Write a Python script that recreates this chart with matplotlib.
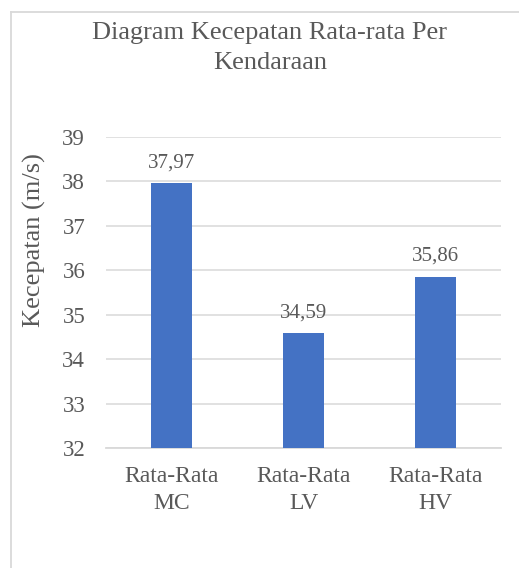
import matplotlib
matplotlib.use("Agg")
import matplotlib.pyplot as plt
from matplotlib.lines import Line2D

categories = ["Rata-Rata\nMC", "Rata-Rata\nLV", "Rata-Rata\nHV"]
values = [37.97, 34.59, 35.86]
value_labels = ["37,97", "34,59", "35,86"]
yticks = [32, 33, 34, 35, 36, 37, 38, 39]

W, H = 519, 568
plt.rcParams['font.family'] = ['Liberation Serif', 'DejaVu Serif']
text_color = '#595959'
grid_color = '#d9d9d9'

fig = plt.figure(figsize=(W / 100, H / 100), dpi=100)
ax = fig.add_axes([106 / W, 1 - 448 / H, (501 - 106) / W, (448 - 137) / H])

x = list(range(len(categories)))
ax.bar(x, values, width=0.31, color='#4472C4', zorder=3, bottom=0)
ax.set_xlim(-0.5, len(categories) - 0.5)
ax.set_ylim(32, 39)
ax.set_yticks(yticks)
ax.set_yticklabels([str(t) for t in yticks])
ax.set_xticks(x)
ax.set_xticklabels(categories, linespacing=1.35)
ax.tick_params(axis='y', length=0, pad=15, labelsize=16.5, labelcolor=text_color)
ax.tick_params(axis='x', length=0, pad=13, labelsize=17, labelcolor=text_color)
ax.yaxis.grid(True, color=grid_color, linewidth=1.1, zorder=0)
ax.set_axisbelow(True)
for s in ['top', 'right', 'left']:
    ax.spines[s].set_visible(False)
ax.spines['bottom'].set_color(grid_color)
ax.spines['bottom'].set_linewidth(1.3)

for xi, v, lab in zip(x, values, value_labels):
    ax.annotate(lab, (xi, v), xytext=(0, 14.5), textcoords='offset points',
                ha='center', va='center', fontsize=15, color=text_color)

ax.set_ylabel("Kecepatan (m/s)", fontsize=19, color=text_color)
ax.yaxis.set_label_coords((46 - 106) / (501 - 106), (448 - 240) / (448 - 137))

fig.text(270 / W, 1 - 33 / H, "Diagram Kecepatan Rata-rata Per", ha='center', va='center',
         fontsize=19, color=text_color)
fig.text(270 / W, 1 - 63 / H, "Kendaraan", ha='center', va='center',
         fontsize=19, color=text_color)

# chart border (left and top visible)
fig.add_artist(Line2D([10.5 / W, 10.5 / W], [0, 1 - 11.5 / H], transform=fig.transFigure,
                      color=grid_color, linewidth=1.3))
fig.add_artist(Line2D([10.5 / W, 1], [1 - 11.5 / H, 1 - 11.5 / H], transform=fig.transFigure,
                      color=grid_color, linewidth=1.3))

fig.savefig("out.png", dpi=100, facecolor='white')
